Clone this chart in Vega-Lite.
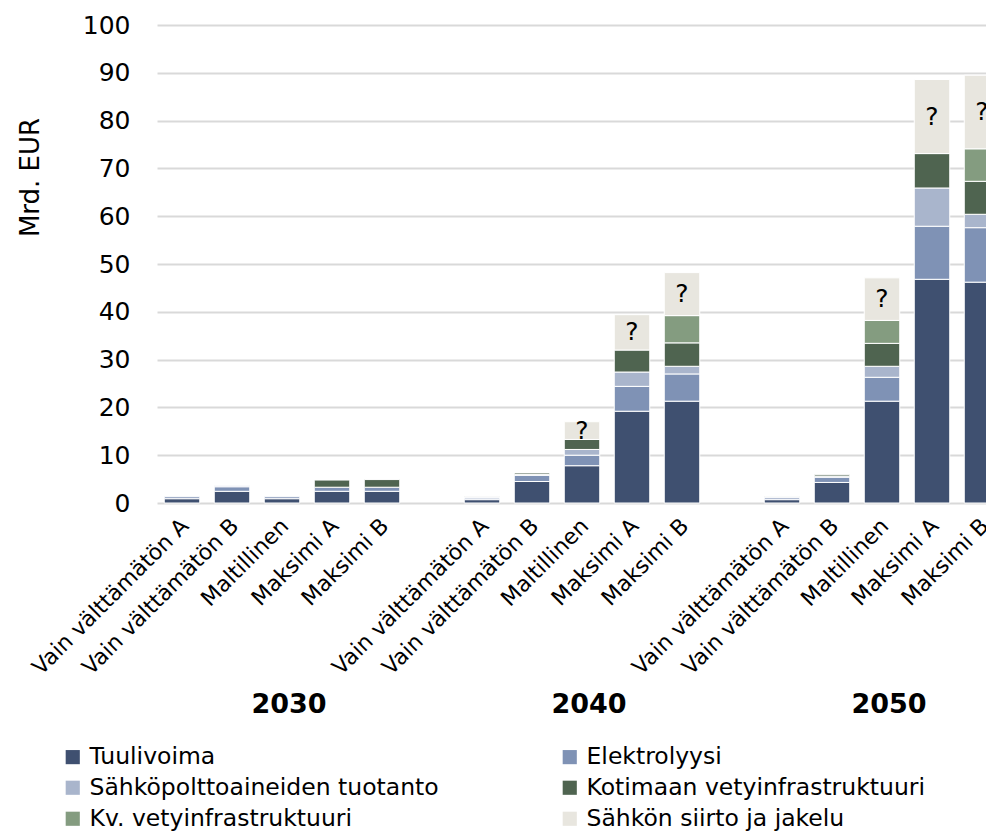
{
  "$schema": "https://vega.github.io/schema/vega-lite/v6.json",
  "width": 850,
  "height": 478,
  "padding": {"left": 17, "top": 13, "right": 0, "bottom": 0},
  "autosize": {"type": "pad"},
  "config": {"font": "DejaVu Sans", "view": {"stroke": null}},
  "data": {
    "values": [
      {"year": "2030", "scenario": "Vain välttämätön A", "component": "Tuulivoima", "value": 0.9},
      {"year": "2030", "scenario": "Vain välttämätön A", "component": "Elektrolyysi", "value": 0.4},
      {"year": "2030", "scenario": "Vain välttämätön B", "component": "Tuulivoima", "value": 2.45},
      {"year": "2030", "scenario": "Vain välttämätön B", "component": "Elektrolyysi", "value": 0.95},
      {"year": "2030", "scenario": "Vain välttämätön B", "component": "Sähköpolttoaineiden tuotanto", "value": 0.2},
      {"year": "2030", "scenario": "Maltillinen", "component": "Tuulivoima", "value": 0.9},
      {"year": "2030", "scenario": "Maltillinen", "component": "Elektrolyysi", "value": 0.4},
      {"year": "2030", "scenario": "Maksimi A", "component": "Tuulivoima", "value": 2.45},
      {"year": "2030", "scenario": "Maksimi A", "component": "Elektrolyysi", "value": 0.85},
      {"year": "2030", "scenario": "Maksimi A", "component": "Kotimaan vetyinfrastruktuuri", "value": 1.5},
      {"year": "2030", "scenario": "Maksimi B", "component": "Tuulivoima", "value": 2.45},
      {"year": "2030", "scenario": "Maksimi B", "component": "Elektrolyysi", "value": 0.85},
      {"year": "2030", "scenario": "Maksimi B", "component": "Kotimaan vetyinfrastruktuuri", "value": 1.6},
      {"year": "2040", "scenario": "Vain välttämätön A", "component": "Tuulivoima", "value": 0.7},
      {"year": "2040", "scenario": "Vain välttämätön A", "component": "Elektrolyysi", "value": 0.35},
      {"year": "2040", "scenario": "Vain välttämätön A", "component": "Sähköpolttoaineiden tuotanto", "value": 0.2},
      {"year": "2040", "scenario": "Vain välttämätön A", "component": "Kotimaan vetyinfrastruktuuri", "value": 0.05},
      {"year": "2040", "scenario": "Vain välttämätön B", "component": "Tuulivoima", "value": 4.5},
      {"year": "2040", "scenario": "Vain välttämätön B", "component": "Elektrolyysi", "value": 1.3},
      {"year": "2040", "scenario": "Vain välttämätön B", "component": "Sähköpolttoaineiden tuotanto", "value": 0.2},
      {"year": "2040", "scenario": "Vain välttämätön B", "component": "Kotimaan vetyinfrastruktuuri", "value": 0.3},
      {"year": "2040", "scenario": "Maltillinen", "component": "Tuulivoima", "value": 7.8},
      {"year": "2040", "scenario": "Maltillinen", "component": "Elektrolyysi", "value": 2.2},
      {"year": "2040", "scenario": "Maltillinen", "component": "Sähköpolttoaineiden tuotanto", "value": 1.2},
      {"year": "2040", "scenario": "Maltillinen", "component": "Kotimaan vetyinfrastruktuuri", "value": 2.1},
      {"year": "2040", "scenario": "Maltillinen", "component": "Sähkön siirto ja jakelu", "value": 3.7},
      {"year": "2040", "scenario": "Maksimi A", "component": "Tuulivoima", "value": 19.2},
      {"year": "2040", "scenario": "Maksimi A", "component": "Elektrolyysi", "value": 5.2},
      {"year": "2040", "scenario": "Maksimi A", "component": "Sähköpolttoaineiden tuotanto", "value": 3.0},
      {"year": "2040", "scenario": "Maksimi A", "component": "Kotimaan vetyinfrastruktuuri", "value": 4.6},
      {"year": "2040", "scenario": "Maksimi A", "component": "Sähkön siirto ja jakelu", "value": 7.4},
      {"year": "2040", "scenario": "Maksimi B", "component": "Tuulivoima", "value": 21.3},
      {"year": "2040", "scenario": "Maksimi B", "component": "Elektrolyysi", "value": 5.7},
      {"year": "2040", "scenario": "Maksimi B", "component": "Sähköpolttoaineiden tuotanto", "value": 1.6},
      {"year": "2040", "scenario": "Maksimi B", "component": "Kotimaan vetyinfrastruktuuri", "value": 4.9},
      {"year": "2040", "scenario": "Maksimi B", "component": "Kv. vetyinfrastruktuuri", "value": 5.7},
      {"year": "2040", "scenario": "Maksimi B", "component": "Sähkön siirto ja jakelu", "value": 9.0},
      {"year": "2050", "scenario": "Vain välttämätön A", "component": "Tuulivoima", "value": 0.7},
      {"year": "2050", "scenario": "Vain välttämätön A", "component": "Elektrolyysi", "value": 0.4},
      {"year": "2050", "scenario": "Vain välttämätön A", "component": "Sähköpolttoaineiden tuotanto", "value": 0.2},
      {"year": "2050", "scenario": "Vain välttämätön A", "component": "Kotimaan vetyinfrastruktuuri", "value": 0.1},
      {"year": "2050", "scenario": "Vain välttämätön B", "component": "Tuulivoima", "value": 4.3},
      {"year": "2050", "scenario": "Vain välttämätön B", "component": "Elektrolyysi", "value": 1.1},
      {"year": "2050", "scenario": "Vain välttämätön B", "component": "Sähköpolttoaineiden tuotanto", "value": 0.2},
      {"year": "2050", "scenario": "Vain välttämätön B", "component": "Kotimaan vetyinfrastruktuuri", "value": 0.3},
      {"year": "2050", "scenario": "Maltillinen", "component": "Tuulivoima", "value": 21.3},
      {"year": "2050", "scenario": "Maltillinen", "component": "Elektrolyysi", "value": 5.0},
      {"year": "2050", "scenario": "Maltillinen", "component": "Sähköpolttoaineiden tuotanto", "value": 2.3},
      {"year": "2050", "scenario": "Maltillinen", "component": "Kotimaan vetyinfrastruktuuri", "value": 4.8},
      {"year": "2050", "scenario": "Maltillinen", "component": "Kv. vetyinfrastruktuuri", "value": 4.8},
      {"year": "2050", "scenario": "Maltillinen", "component": "Sähkön siirto ja jakelu", "value": 8.9},
      {"year": "2050", "scenario": "Maksimi A", "component": "Tuulivoima", "value": 46.8},
      {"year": "2050", "scenario": "Maksimi A", "component": "Elektrolyysi", "value": 11.1},
      {"year": "2050", "scenario": "Maksimi A", "component": "Sähköpolttoaineiden tuotanto", "value": 8.0},
      {"year": "2050", "scenario": "Maksimi A", "component": "Kotimaan vetyinfrastruktuuri", "value": 7.2},
      {"year": "2050", "scenario": "Maksimi A", "component": "Sähkön siirto ja jakelu", "value": 15.5},
      {"year": "2050", "scenario": "Maksimi B", "component": "Tuulivoima", "value": 46.2},
      {"year": "2050", "scenario": "Maksimi B", "component": "Elektrolyysi", "value": 11.4},
      {"year": "2050", "scenario": "Maksimi B", "component": "Sähköpolttoaineiden tuotanto", "value": 2.8},
      {"year": "2050", "scenario": "Maksimi B", "component": "Kotimaan vetyinfrastruktuuri", "value": 6.9},
      {"year": "2050", "scenario": "Maksimi B", "component": "Kv. vetyinfrastruktuuri", "value": 6.8},
      {"year": "2050", "scenario": "Maksimi B", "component": "Sähkön siirto ja jakelu", "value": 15.4}
    ]
  },
  "transform": [
    {"calculate": "datum.year + '|' + datum.scenario", "as": "k"},
    {"calculate": "indexof(['Tuulivoima','Elektrolyysi','Sähköpolttoaineiden tuotanto','Kotimaan vetyinfrastruktuuri','Kv. vetyinfrastruktuuri','Sähkön siirto ja jakelu'], datum.component)", "as": "o"},
    {"stack": "value", "groupby": ["k"], "sort": [{"field": "o", "order": "ascending"}], "as": ["v0", "v1"]},
    {"calculate": "(datum.v0 + datum.v1) / 2", "as": "mid"}
  ],
  "layer": [
    {
      "mark": {"type": "bar", "stroke": "white", "strokeWidth": 1},
      "encoding": {
        "x": {
          "field": "k", "type": "nominal", "sort": null,
          "scale": {
            "domain": ["2030|Vain välttämätön A", "2030|Vain välttämätön B", "2030|Maltillinen", "2030|Maksimi A", "2030|Maksimi B", "gap1",
                       "2040|Vain välttämätön A", "2040|Vain välttämätön B", "2040|Maltillinen", "2040|Maksimi A", "2040|Maksimi B", "gap2",
                       "2050|Vain välttämätön A", "2050|Vain välttämätön B", "2050|Maltillinen", "2050|Maksimi A", "2050|Maksimi B"],
            "paddingInner": 0.29, "paddingOuter": 0.145
          },
          "axis": {
            "orient": "bottom",
            "title": null, "labelAngle": -45, "labelAlign": "right", "labelBaseline": "middle",
            "labelFontSize": 22, "labelColor": "#000", "ticks": false, "domain": false, "grid": false,
            "labelPadding": 19, "labelOffset": 3, "labelLimit": 400,
            "labelExpr": "indexof(datum.label, '|') >= 0 ? split(datum.label, '|')[1] : ''"
          }
        },
        "y": {
          "field": "v0", "type": "quantitative",
          "scale": {"domain": [0, 100], "nice": false},
          "axis": {
            "title": "Mrd. EUR", "values": [0, 10, 20, 30, 40, 50, 60, 70, 80, 90, 100],
            "grid": true, "gridColor": "#d9d9d9", "gridWidth": 2, "domain": false, "ticks": false,
            "labelFontSize": 25, "labelColor": "#000", "labelPadding": 27,
            "titleFontSize": 26, "titleFontWeight": "normal", "titleColor": "#000", "titlePadding": 39,
            "titleY": 152
          }
        },
        "y2": {"field": "v1"},
        "color": {
          "field": "component", "type": "nominal",
          "scale": {
            "domain": ["Tuulivoima", "Elektrolyysi", "Sähköpolttoaineiden tuotanto", "Kotimaan vetyinfrastruktuuri", "Kv. vetyinfrastruktuuri", "Sähkön siirto ja jakelu"],
            "range": ["#3f5070", "#7f92b5", "#a9b5cc", "#4f6450", "#849c80", "#e8e6df"]
          },
          "legend": {
            "orient": "none", "legendX": -96, "legendY": 720, "columns": 2, "direction": "horizontal", "title": null,
            "symbolType": "square", "symbolSize": 200, "symbolStrokeWidth": 0,
            "labelFontSize": 23.5, "labelColor": "#000", "labelOffset": 5, "labelLimit": 600,
            "columnPadding": 119, "rowPadding": 6
          }
        }
      }
    },
    {
      "transform": [{"filter": "datum.component == 'Sähkön siirto ja jakelu'"}],
      "mark": {"type": "text", "fontSize": 25, "color": "#000", "baseline": "middle"},
      "encoding": {
        "x": {
          "field": "k", "type": "nominal", "sort": null,
          "scale": {
            "domain": ["2030|Vain välttämätön A", "2030|Vain välttämätön B", "2030|Maltillinen", "2030|Maksimi A", "2030|Maksimi B", "gap1",
                       "2040|Vain välttämätön A", "2040|Vain välttämätön B", "2040|Maltillinen", "2040|Maksimi A", "2040|Maksimi B", "gap2",
                       "2050|Vain välttämätön A", "2050|Vain välttämätön B", "2050|Maltillinen", "2050|Maksimi A", "2050|Maksimi B"]
          },
          "axis": {
            "orient": "bottom",
            "title": null, "labelAngle": 0, "labelFontSize": 27, "labelFontWeight": "bold", "labelColor": "#000",
            "ticks": false, "domain": false, "grid": false, "labelPadding": 188, "labelOffset": 7,
            "labelExpr": "indexof(datum.label, 'Maltillinen') >= 0 ? split(datum.label, '|')[0] : ''"
          }
        },
        "y": {
          "field": "mid", "type": "quantitative",
          "axis": {
            "title": "Mrd. EUR", "values": [0, 10, 20, 30, 40, 50, 60, 70, 80, 90, 100],
            "grid": true, "gridColor": "#d9d9d9", "gridWidth": 2, "domain": false, "ticks": false,
            "labelFontSize": 25, "labelColor": "#000", "labelPadding": 27,
            "titleFontSize": 26, "titleFontWeight": "normal", "titleColor": "#000", "titlePadding": 39,
            "titleY": 152
          }
        },
        "text": {"value": "?"}
      }
    }
  ],
  "resolve": {"axis": {"x": "independent"}}
}
